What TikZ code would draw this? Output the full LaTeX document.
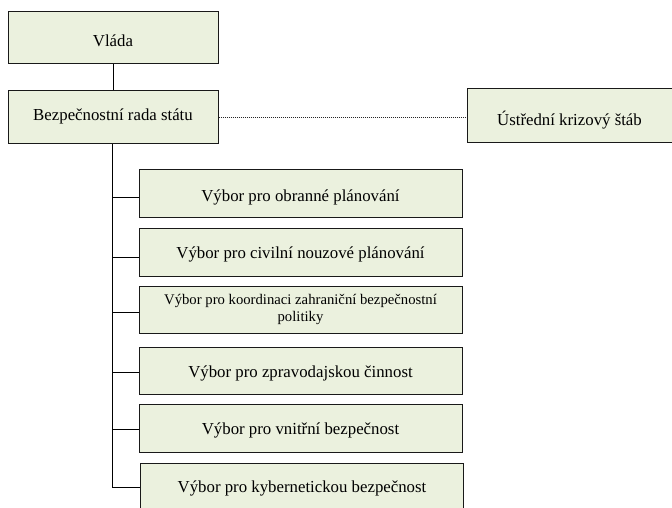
\documentclass[tikz,border=0pt]{standalone}
\usepackage{fontspec}
\setmainfont{Liberation Serif}
\usepackage{xcolor}
\usepackage{tikz}
\usetikzlibrary{positioning}
\definecolor{boxgreen}{HTML}{EBF1DE}
\tikzset{
	box/.style={draw=black!90, line width=1pt, fill=boxgreen, inner sep=0pt,
		align=center, font=\fontsize{16.8}{20}\selectfont,
		text height=11pt, text depth=0pt},
	smallbox/.style={draw=black!90, line width=1pt, fill=boxgreen, inner sep=0pt,
		align=center, font=\fontsize{14.7}{17}\selectfont},
	link/.style={line width=0.9pt, black},
	dotlink/.style={line width=0.9pt, black!85, dash pattern=on 1pt off 1pt}
}

\begin{document}
\begin{tikzpicture}[x=1pt, y=-1pt]
				\useasboundingbox (0,0) rectangle (672,508);
				
				\node[box, minimum width=210pt, minimum height=52pt, text height=18pt] (vlada) at (113,38) {Vláda};
				\node[box, minimum width=210pt, minimum height=53pt, text depth=5pt] (rada) at (113,117.5) {Bezpečnostní rada státu};
				\node[box, minimum width=205pt, minimum height=54pt, text height=20pt] (stab) at (569.5,116) {Ústřední krizový štáb};
				
				% vybory
				\node[box, minimum width=323pt, minimum height=48pt, text height=16pt] (c1) at (300.5,193) {Výbor pro obranné plánování};
				\node[box, minimum width=323pt, minimum height=48pt, text height=12pt] (c2) at (300.5,252) {Výbor pro civilní nouzové plánování};
				\node[smallbox, minimum width=323pt, minimum height=47pt] (c3) at (300.5,309.5) {Výbor pro koordinaci zahraniční bezpečnostní\\politiky};
				\node[box, minimum width=323pt, minimum height=47pt, text height=13pt] (c4) at (300.5,370.5) {Výbor pro zpravodajskou činnost};
				\node[box, minimum width=323pt, minimum height=48pt, text height=13pt] (c5) at (300.5,428) {Výbor pro vnitřní bezpečnost};
				\node[box, minimum width=323pt, minimum height=48pt] (c6) at (302,487) {Výbor pro kybernetickou bezpečnost};
				
				\draw[link] (vlada) -- (rada);
				\draw[dotlink] (rada.east) -- (rada.east -| stab.west);
				
				\coordinate (trunk) at ([xshift=-1pt]rada.south);
				\draw[link] (trunk) -- (trunk |- c6.west);
				\foreach \c/\d in {c1/4,c2/5,c3/2.5,c4/1.5,c5/1,c6/0}
					\draw[link] ([yshift=-\d pt]\c.west -| trunk) -- ([yshift=-\d pt]\c.west);
\end{tikzpicture}
\end{document}
